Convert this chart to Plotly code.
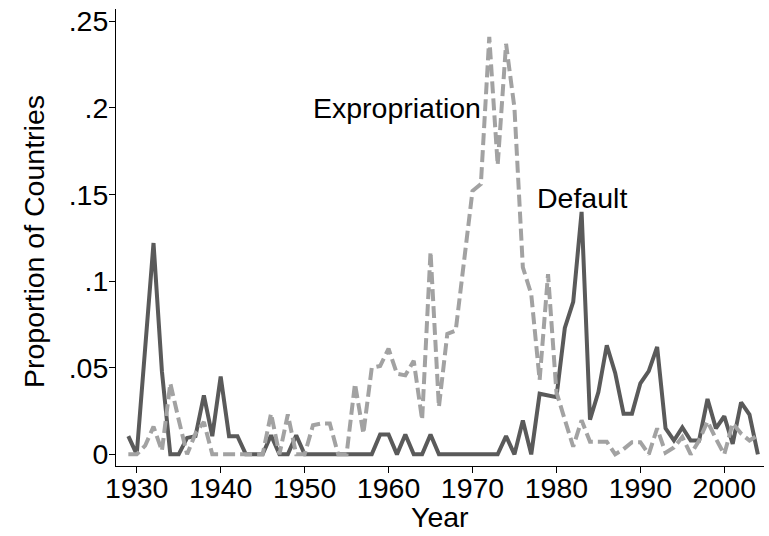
import plotly.graph_objects as go

years = list(range(1929, 2005))

default = [
    0.0105, 0.0, 0.061, 0.122, 0.048, 0.0, 0.0, 0.0095, 0.0105, 0.034,   # 1929-1938
    0.0105, 0.045, 0.0105, 0.0105, 0.0, 0.0, 0.0, 0.011, 0.0, 0.0,       # 1939-1948
    0.011, 0.0, 0.0, 0.0, 0.0, 0.0, 0.0, 0.0, 0.0, 0.0,                  # 1949-1958
    0.0115, 0.0115, 0.0, 0.0115, 0.0, 0.0, 0.0115, 0.0, 0.0, 0.0,        # 1959-1968
    0.0, 0.0, 0.0, 0.0, 0.0, 0.0105, 0.0, 0.0195, 0.0, 0.035,            # 1969-1978
    0.034, 0.033, 0.073, 0.088, 0.140, 0.020, 0.036, 0.063, 0.047, 0.0235,  # 1979-1988
    0.0235, 0.041, 0.048, 0.062, 0.015, 0.008, 0.0155, 0.008, 0.008, 0.032,  # 1989-1998
    0.015, 0.022, 0.006, 0.030, 0.023, 0.0,                              # 1999-2004
]

expropriation = [
    0.0, 0.0, 0.005, 0.016, 0.002, 0.041, 0.020, 0.0, 0.012, 0.0187,     # 1929-1938
    0.0, 0.0, 0.0, 0.0, 0.0, 0.0, 0.0, 0.0235, 0.0, 0.023,               # 1939-1948
    0.0, 0.0, 0.0168, 0.0178, 0.0178, 0.0, 0.0, 0.0408, 0.012, 0.050,    # 1949-1958
    0.051, 0.061, 0.0465, 0.0456, 0.054, 0.020, 0.117, 0.0274, 0.0695, 0.0714,  # 1959-1968
    0.110, 0.152, 0.156, 0.241, 0.167, 0.237, 0.200, 0.108, 0.0925, 0.043,  # 1969-1978
    0.104, 0.036, 0.020, 0.0044, 0.0197, 0.0073, 0.0073, 0.0073, 0.0, 0.003,  # 1979-1988
    0.007, 0.007, 0.0, 0.015, 0.001, 0.004, 0.010, 0.0, 0.008, 0.019,    # 1989-1998
    0.009, 0.0, 0.018, 0.012, 0.008, 0.011,                              # 1999-2004
]

x_ticks = [1930, 1940, 1950, 1960, 1970, 1980, 1990, 2000]
y_ticks = [0, 0.05, 0.1, 0.15, 0.2, 0.25]
y_ticktext = ["0", ".05", ".1", ".15", ".2", ".25"]
x_title = "Year"
y_title = "Proportion of Countries"

FONT = "Liberation Sans, Arial, sans-serif"
FS = 28.5

W, H = 769, 536
ML, MR, MT, MB = 116, 5, 7, 70
PW, PH = W - ML - MR, H - MT - MB

fig = go.Figure()
fig.add_trace(go.Scatter(
    x=years, y=default, mode="lines", name="Default",
    line=dict(color="#5a5a5a", width=4),
))
fig.add_trace(go.Scatter(
    x=years, y=expropriation, mode="lines", name="Expropriation",
    line=dict(color="#a2a2a2", width=4, dash="12px,5px"),
))

fig.add_annotation(x=1961, y=0.2, text="Expropriation", showarrow=False,
                   xanchor="center", yanchor="middle",
                   font=dict(family=FONT, size=FS, color="black"))
fig.add_annotation(x=1983, y=0.148, text="Default", showarrow=False,
                   xanchor="center", yanchor="middle",
                   font=dict(family=FONT, size=FS, color="black"))

# axis titles placed as annotations (paper coordinates relative to the plot area)
fig.add_annotation(x=0.5, y=-(517 - (H - MB)) / PH, xref="paper", yref="paper",
                   text=x_title, showarrow=False, xanchor="center", yanchor="middle",
                   font=dict(family=FONT, size=FS, color="black"))
fig.add_annotation(x=(34 - ML) / PW, y=0.49, xref="paper", yref="paper",
                   text=y_title, showarrow=False, textangle=-90,
                   xanchor="center", yanchor="middle",
                   font=dict(family=FONT, size=FS, color="black"))

fig.update_layout(
    width=W, height=H,
    margin=dict(l=ML, r=MR, t=MT, b=MB),
    paper_bgcolor="white", plot_bgcolor="white",
    showlegend=False,
    font=dict(family=FONT, size=FS, color="black"),
    xaxis=dict(
        range=[1927.53, 2004.73],
        tickvals=x_ticks,
        ticks="outside", ticklen=6, tickwidth=1, tickcolor="black",
        ticklabelstandoff=-9,
        showline=True, linecolor="black", linewidth=1,
        showgrid=False, zeroline=False,
        tickfont=dict(family=FONT, size=FS, color="black"),
    ),
    yaxis=dict(
        range=[-0.00672, 0.2571],
        tickvals=y_ticks, ticktext=y_ticktext,
        ticks="outside", ticklen=6, tickwidth=1, tickcolor="black",
        ticklabelstandoff=-5,
        showline=True, linecolor="black", linewidth=1,
        showgrid=False, zeroline=False,
        tickfont=dict(family=FONT, size=FS, color="black"),
    ),
)

fig.write_html(
    "out.html",
    config={"displayModeBar": False},
    post_script="document.body.style.margin='0';document.body.style.padding='0';",
)
